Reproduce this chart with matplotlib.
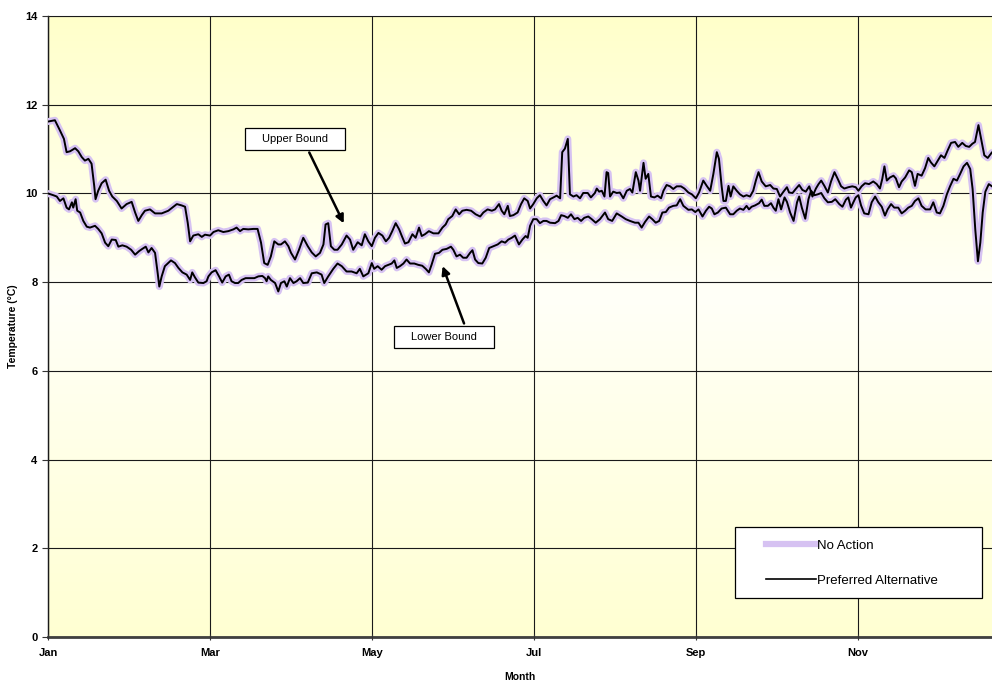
import numpy as np
import matplotlib
matplotlib.use("Agg")
import matplotlib.pyplot as plt
from matplotlib.colors import LinearSegmentedColormap
from matplotlib.patches import Rectangle
from matplotlib.lines import Line2D

plt.rcParams['font.family'] = ['Liberation Sans', 'DejaVu Sans']

# month tick positions (day of year) and labels
tick_days = [0, 61, 122, 183, 244, 305]
tick_labels = ['Jan', 'Mar', 'May', 'Jul', 'Sep', 'Nov']

# upper bound series (day, deg C)
upper_days = [0, 2.6, 4.5, 6, 7, 8.3, 10.2, 11.4, 12.7, 13.9, 15.2, 16.4, 17.4, 17.9, 18.9, 20.2,
              21.7, 23, 24.2, 25.9, 27.7, 29.6, 31.5, 32.8, 34, 35.3, 36.5, 38.4, 40.3, 42.8, 45.3,
              47.2, 48.5, 50.3, 51.6, 52.6, 53.5, 54.7, 56.6, 57.9, 59.1,
              61.0, 62.3, 64.1, 66.0, 67.9, 69.8, 71.0, 72.3, 73.5, 75.4, 77.3, 78.9, 80.2, 81.4,
              82.7, 83.9, 85.2, 86.7, 87.7, 89.2, 90.5, 91.5, 93.0, 94.5, 96.1, 97.8, 99.3, 100.8,
              102.4, 103.7, 104.5, 105.5, 106.5, 107.8, 109.0, 110.6, 112.4, 113.7, 114.9, 116.6,
              118.1, 119.3,
              120.6, 121.9, 123.1, 124.4, 125.9, 127.2, 128.4, 129.6, 130.9, 132.2, 133.2, 134.4,
              135.7, 137.2, 138.4, 139.7, 140.7, 141.9, 143.4, 145.1, 147.0, 148.5, 149.7, 150.7,
              152.2, 153.5, 154.8, 156.0, 157.6, 159.3, 161.0, 162.7, 163.9, 165.5, 167.1, 168.3,
              169.8, 170.8, 171.8, 173.1, 173.9, 175.2, 176.8, 178.1, 179.3,
              180.6, 181.5, 182.7, 184.0, 185.2, 186.5, 187.7, 189.0, 190.3, 191.5, 192.8, 193.6,
              194.6, 195.7, 196.5, 197.8, 199.0, 200.3, 201.5, 203.2, 204.4, 205.9, 206.6, 207.5,
              208.5, 209.5, 210.3, 210.9, 211.6, 212.8, 214.1, 215.3, 216.6, 217.9, 219.1, 220.0,
              221.3, 222.3, 222.9, 224.2, 225.0, 226.0, 227.0, 228.3, 229.5, 230.8, 231.7, 232.9,
              234.2, 235.4, 236.7, 238.3, 239.6,
              241.1, 242.4, 243.9, 245.1, 246.7, 248.0, 249.3, 250.5, 251.8, 252.6, 253.6, 254.3,
              255.2, 256.2, 257.0, 258.0, 259.3, 260.5, 261.8, 263.0, 264.3, 265.5, 266.5, 267.5,
              268.7, 270.2, 271.9, 273.1, 274.4, 275.6, 276.9, 278.2, 279.0, 280.3, 281.5, 282.8,
              284.0, 285.3, 286.6, 287.8, 289.1, 290.1, 291.1, 292.3, 293.6, 294.8, 296.1, 297.3,
              298.6, 299.8,
              301.3, 302.8, 304.1, 305.1, 306.3, 307.6, 309.1, 310.7, 312.0, 313.2, 314.1, 314.9,
              315.8, 317.0, 318.3, 319.2, 320.4, 321.4, 322.7, 324.2, 325.2, 326.4, 327.4, 328.9,
              330.2, 331.4, 332.4, 333.7, 334.9, 336.2, 337.5, 338.7, 340.0, 341.5, 342.7, 344.2,
              345.5, 346.8, 348.0, 349.0, 350.3, 351.3, 352.5, 353.8, 355.3]
upper_vals = [11.62, 11.65, 11.42, 11.23, 10.93, 10.95, 11.02, 10.95, 10.82, 10.74, 10.78, 10.67,
              10.17, 9.87, 10.06, 10.23, 10.31, 10.06, 9.93, 9.83, 9.66, 9.76, 9.81, 9.57, 9.38,
              9.51, 9.61, 9.64, 9.55, 9.55, 9.61, 9.70, 9.76, 9.73, 9.70, 9.34, 8.92, 9.05, 9.08,
              9.02, 9.07,
              9.05, 9.13, 9.17, 9.13, 9.15, 9.19, 9.23, 9.15, 9.20, 9.19, 9.20, 9.20, 8.89, 8.43,
              8.39, 8.58, 8.92, 8.85, 8.85, 8.92, 8.81, 8.66, 8.51, 8.73, 9.00, 8.81, 8.67, 8.58,
              8.66, 8.85, 9.30, 9.33, 8.81, 8.73, 8.73, 8.85, 9.05, 8.96, 8.73, 8.90, 8.83, 9.08,
              8.92, 8.81, 9.00, 9.11, 9.05, 8.92, 9.00, 9.15, 9.33, 9.19, 9.04, 8.87, 8.90, 9.08,
              9.00, 9.23, 9.04, 9.08, 9.15, 9.10, 9.10, 9.23, 9.30, 9.42, 9.49, 9.64, 9.53, 9.61,
              9.63, 9.61, 9.53, 9.48, 9.57, 9.64, 9.61, 9.64, 9.76, 9.61, 9.53, 9.72, 9.49, 9.51,
              9.57, 9.76, 9.89,
              9.83, 9.66, 9.76, 9.89, 9.96, 9.83, 9.73, 9.87, 9.91, 9.95, 9.89, 10.93, 11.01, 11.23,
              9.98, 9.93, 9.96, 9.89, 10.01, 10.01, 9.91, 10.01, 10.11, 10.04, 10.06, 9.93, 10.48,
              10.46, 9.93, 10.04, 10.01, 10.02, 9.89, 10.06, 10.10, 10.02, 10.48, 10.29, 10.06,
              10.69, 10.33, 10.44, 9.93, 9.91, 9.95, 9.89, 10.06, 10.19, 10.16, 10.10, 10.16, 10.16,
              10.11,
              10.02, 9.98, 9.89, 10.02, 10.29, 10.17, 10.06, 10.44, 10.93, 10.78, 10.17, 9.83, 9.83,
              10.17, 9.93, 10.16, 10.06, 9.98, 9.93, 9.96, 9.93, 10.06, 10.29, 10.48, 10.27, 10.16,
              10.19, 10.11, 10.10, 9.93, 10.04, 10.14, 10.02, 10.01, 10.10, 10.19, 10.08, 10.04,
              10.16, 9.93, 10.11, 10.21, 10.29, 10.17, 10.02, 10.27, 10.48, 10.33, 10.16, 10.11,
              10.14, 10.16, 10.14, 10.06, 10.16, 10.23, 10.21, 10.27, 10.21, 10.11, 10.33, 10.61,
              10.29, 10.36, 10.40, 10.34, 10.14, 10.27, 10.36, 10.52, 10.48, 10.17, 10.44, 10.40,
              10.57, 10.80, 10.70, 10.61, 10.73, 10.86, 10.80, 10.97, 11.14, 11.16, 11.05, 11.14,
              11.07, 11.05, 11.12, 11.16, 11.54, 11.23, 10.86, 10.80, 10.92]

# lower bound series (day, deg C)
lower_days = [0, 2.0, 3.3, 4.5, 5.8, 7.0, 7.9, 9.0, 9.5, 10.4, 11.0, 12.1, 13.3, 14.6, 15.8, 17.7,
              18.9, 20.2, 21.5, 22.7, 24.0, 25.5, 26.5, 28.0, 29.6, 31.3, 32.8, 34.3, 35.5, 36.8,
              37.8, 39.0, 40.3, 41.3, 41.9, 42.8, 44.0, 46.3, 47.8, 49.1, 50.6, 52.2, 53.5, 54.3,
              55.3, 56.6, 58.5, 59.7,
              60.4, 61.6, 63.1, 64.4, 65.6, 66.9, 68.1, 69.1, 70.4, 71.6, 72.9, 74.4, 76.0, 77.7,
              79.2, 80.7, 81.7, 82.3, 82.9, 83.9, 85.5, 86.7, 87.7, 89.0, 89.9, 91.1, 92.4, 93.6,
              94.9, 96.1, 97.8, 99.3, 101.2, 103.0, 104.0, 105.5, 107.4, 109.0, 110.6, 112.4, 114.3,
              116.2, 117.4, 118.7,
              120.6, 121.9, 122.8, 124.1, 125.6, 126.9, 128.1, 129.4, 130.4, 131.3, 132.5, 133.8,
              135.0, 136.3, 137.9, 139.4, 140.9, 142.2, 143.4, 144.4, 145.7, 147.2, 148.5, 150.1,
              151.7, 152.6, 153.8, 155.1, 156.3, 157.6, 158.9, 159.8, 160.8, 162.0, 163.5, 164.8,
              166.1, 167.7, 169.3, 170.8, 172.1, 173.3, 174.6, 175.8, 177.3, 178.6, 179.8,
              180.6, 181.5, 182.7, 184.0, 185.2, 186.5, 187.7, 189.0, 190.9, 192.2, 193.2, 194.4,
              195.7, 196.9, 198.2, 199.4, 200.7, 201.9, 203.4, 204.7, 206.2, 207.8, 209.7, 210.9,
              212.4, 214.1, 216.0, 217.5, 219.1, 221.0, 222.3, 223.5, 224.8, 226.3, 227.5, 228.8,
              230.1, 231.3, 232.6, 233.8, 235.4, 236.7, 238.0, 239.2,
              241.1, 242.4, 243.7, 244.9, 246.4, 247.7, 248.9, 249.9, 250.9, 252.2, 253.6, 255.2,
              256.8, 258.0, 259.3, 260.5, 261.8, 263.0, 263.9, 264.9, 266.2, 267.7, 268.7, 269.7,
              271.0, 272.2, 273.1, 274.0, 275.0, 276.0, 277.3, 278.2, 279.4, 280.7, 282.0, 282.8,
              283.8, 285.1, 286.3, 287.3, 288.6, 289.8, 291.1, 292.3, 293.6, 295.1, 296.4, 297.9,
              299.1, 300.4,
              301.3, 302.3, 303.2, 304.1, 305.1, 306.1, 307.3, 308.9, 310.1, 311.4, 312.6, 313.9,
              315.1, 316.1, 317.4, 318.6, 320.1, 321.4, 322.7, 323.9, 325.2, 326.4, 327.7, 328.9,
              330.4, 332.1, 333.3, 334.6, 335.8, 337.1, 338.4, 339.6, 340.9, 342.2, 343.4, 344.7,
              346.0, 347.2, 348.1, 349.1, 350.1, 351.0, 351.9, 352.9, 354.2, 355.4]
lower_vals = [10.00, 9.96, 9.93, 9.83, 9.89, 9.68, 9.64, 9.80, 9.68, 9.87, 9.61, 9.57, 9.38, 9.25,
              9.23, 9.27, 9.20, 9.10, 8.89, 8.81, 8.96, 8.95, 8.80, 8.83, 8.80, 8.73, 8.62, 8.70,
              8.75, 8.80, 8.67, 8.77, 8.66, 8.20, 7.90, 8.13, 8.36, 8.49, 8.43, 8.32, 8.22, 8.17,
              8.05, 8.22, 8.11, 7.99, 7.98, 8.02,
              8.13, 8.22, 8.27, 8.13, 7.99, 8.13, 8.17, 8.02, 7.98, 7.98, 8.05, 8.09, 8.09, 8.09,
              8.13, 8.14, 8.09, 8.02, 8.13, 8.05, 7.98, 7.79, 7.98, 8.02, 7.90, 8.09, 7.98, 8.02,
              8.09, 7.98, 7.99, 8.20, 8.22, 8.17, 7.98, 8.13, 8.30, 8.42, 8.36, 8.24, 8.24, 8.20,
              8.30, 8.13,
              8.20, 8.43, 8.30, 8.36, 8.28, 8.36, 8.39, 8.42, 8.49, 8.32, 8.36, 8.42, 8.51, 8.42,
              8.42, 8.39, 8.37, 8.30, 8.22, 8.39, 8.64, 8.66, 8.73, 8.75, 8.80, 8.73, 8.58, 8.62,
              8.55, 8.55, 8.66, 8.72, 8.51, 8.43, 8.42, 8.55, 8.77, 8.81, 8.85, 8.92, 8.89, 8.96,
              9.00, 9.05, 8.85, 8.96, 9.04,
              9.00, 9.27, 9.42, 9.42, 9.33, 9.38, 9.38, 9.34, 9.33, 9.38, 9.51, 9.49, 9.45, 9.53,
              9.42, 9.45, 9.38, 9.45, 9.48, 9.42, 9.34, 9.42, 9.57, 9.42, 9.38, 9.55, 9.48, 9.42,
              9.38, 9.34, 9.34, 9.23, 9.36, 9.48, 9.42, 9.34, 9.38, 9.57, 9.58, 9.68, 9.72, 9.73,
              9.87, 9.72,
              9.63, 9.64, 9.58, 9.64, 9.48, 9.61, 9.70, 9.66, 9.53, 9.57, 9.66, 9.68, 9.53, 9.53,
              9.61, 9.66, 9.63, 9.72, 9.64, 9.70, 9.73, 9.78, 9.86, 9.72, 9.72, 9.78, 9.68, 9.61,
              9.87, 9.64, 9.91, 9.81, 9.57, 9.38, 9.80, 9.93, 9.68, 9.43, 9.87, 10.06, 9.96, 9.98,
              10.01, 9.89, 9.80, 9.81, 9.87, 9.76, 9.70, 9.86,
              9.91, 9.68, 9.80, 9.91, 9.96, 9.73, 9.55, 9.53, 9.80, 9.93, 9.80, 9.70, 9.50, 9.64,
              9.76, 9.68, 9.68, 9.55, 9.61, 9.68, 9.72, 9.83, 9.89, 9.72, 9.64, 9.64, 9.80, 9.57,
              9.55, 9.72, 9.98, 10.16, 10.33, 10.29, 10.44, 10.61, 10.69, 10.55, 10.10, 9.19, 8.47,
              8.89, 9.57, 10.04, 10.21, 10.16]

fig = plt.figure(figsize=(9.92, 6.83), dpi=100)
ax = fig.add_axes([48 / 992, 46 / 683, 944 / 992, 621 / 683])

xmax = 355.4
ax.set_xlim(0, xmax)
ax.set_ylim(0, 14)

# yellow - white - yellow vertical gradient background
cmap = LinearSegmentedColormap.from_list('bg', [(0, '#FFFFD2'), (0.55, '#FFFFF8'), (1, '#FFFFCA')])
grad = np.linspace(0, 1, 256).reshape(-1, 1)
ax.imshow(grad, extent=[0, xmax, 0, 14], origin='lower', aspect='auto', cmap=cmap, zorder=0)

ax.set_xticks(tick_days)
ax.set_xticklabels(tick_labels)
ax.set_yticks(range(0, 15, 2))
ax.grid(True, color='#1a1a1a', linewidth=0.8, zorder=1)
ax.set_axisbelow(False)

for days, vals in [(upper_days, upper_vals), (lower_days, lower_vals)]:
    ax.plot(days, vals, color='#D6C2F2', linewidth=5.0, solid_capstyle='round',
            solid_joinstyle='round', zorder=3)
for days, vals in [(upper_days, upper_vals), (lower_days, lower_vals)]:
    ax.plot(days, vals, color='black', linewidth=1.4, zorder=4)

ax.tick_params(axis='both', labelsize=8, length=4, width=0.8, color='#333333')
ax.tick_params(axis='x', direction='inout', pad=6)
for lab in ax.get_xticklabels() + ax.get_yticklabels():
    lab.set_fontweight('bold')

ax.spines['bottom'].set_color('#404040')
ax.spines['bottom'].set_linewidth(2)
ax.spines['left'].set_linewidth(1)
ax.spines['top'].set_color('#808080')
ax.spines['right'].set_visible(False)

ax.set_xlabel('Month', fontsize=7.5, fontweight='bold', labelpad=10)
ax.set_ylabel('Temperature (°C)', fontsize=7.5, fontweight='bold', labelpad=5)

# annotation boxes with arrows
ax.add_patch(Rectangle((74.2, 10.98), 37.6, 0.49, facecolor='white', edgecolor='black',
                       linewidth=0.9, zorder=6))
ax.text(93.0, 11.225, 'Upper Bound', ha='center', va='center', fontsize=8, zorder=7)
ax.annotate('', xy=(111.8, 9.27), xytext=(97.9, 10.98),
            arrowprops=dict(arrowstyle='-|>', color='black', lw=1.8, mutation_scale=12), zorder=6)

ax.add_patch(Rectangle((130.3, 6.51), 37.6, 0.50, facecolor='white', edgecolor='black',
                       linewidth=0.9, zorder=6))
ax.text(149.1, 6.76, 'Lower Bound', ha='center', va='center', fontsize=8, zorder=7)
ax.annotate('', xy=(148.2, 8.42), xytext=(157.0, 7.01),
            arrowprops=dict(arrowstyle='-|>', color='black', lw=1.8, mutation_scale=12), zorder=6)

# legend box
ax.add_patch(Rectangle((0.7278, 0.0628), 0.2612, 0.114, transform=ax.transAxes,
                       facecolor='white', edgecolor='black', linewidth=0.9, zorder=8))
handles = [Line2D([], [], color='#D6C2F2', linewidth=4.5),
           Line2D([], [], color='black', linewidth=1.2)]
leg = ax.legend(handles, ['No Action', 'Preferred Alternative'], loc='center left',
                bbox_to_anchor=(0.7478, 0.119), frameon=False, fontsize=9.5,
                handlelength=3.8, handletextpad=0.05, labelspacing=1.75)
leg.set_zorder(9)

fig.savefig('out.png', dpi=100)
